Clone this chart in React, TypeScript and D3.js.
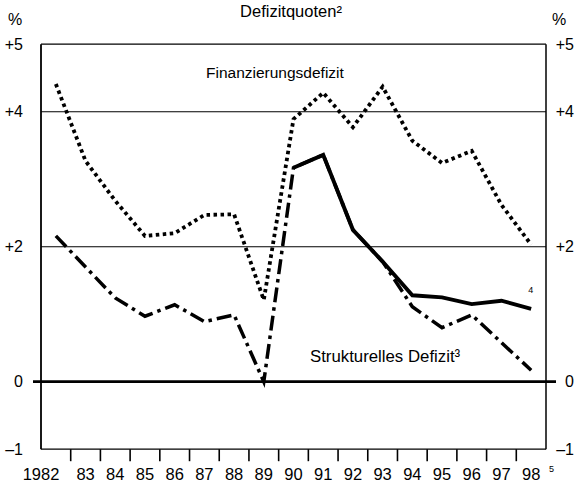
import React from "react";
import * as d3 from "d3";

const years = [1982, 1983, 1984, 1985, 1986, 1987, 1988, 1989, 1990, 1991, 1992, 1993, 1994, 1995, 1996, 1997, 1998];
const yearLabels = ["1982", "83", "84", "85", "86", "87", "88", "89", "90", "91", "92", "93", "94", "95", "96", "97", "98"];
const finanzierungsdefizit = [4.41, 3.27, 2.68, 2.16, 2.2, 2.47, 2.48, 1.21, 3.89, 4.28, 3.77, 4.37, 3.57, 3.24, 3.42, 2.62, 2.03];
const strukturellesDefizit = [2.16, 1.7, 1.24, 0.97, 1.14, 0.89, 0.99, 0.0, 3.17, 3.36, 2.25, 1.78, 1.11, 0.8, 0.99, 0.58, 0.17];
const footnote4Years = [1990, 1991, 1992, 1993, 1994, 1995, 1996, 1997, 1998];
const footnote4Values = [3.17, 3.36, 2.25, 1.78, 1.28, 1.25, 1.15, 1.2, 1.08];
const yTickValues = [5, 4, 2, 0, -1];
const yTickLabels = ["+5", "+4", "+2", "0", "\u20131"];
const gridValues = [4, 2];

const W = 576;
const H = 491;
const FONT = "'Liberation Sans', Arial, Helvetica, sans-serif";

export default function App() {
  const x = d3.scaleLinear().domain([1981.5, 1998.5]).range([41, 546]);
  const y = d3.scaleLinear().domain([-1, 5]).range([449.2, 44.2]);

  const line = d3
    .line<[number, number]>()
    .x((d) => x(d[0]))
    .y((d) => y(d[1]));

  const finPath = line(years.map((yr, i) => [yr, finanzierungsdefizit[i]]) as [number, number][]);
  const strPath = line(years.map((yr, i) => [yr, strukturellesDefizit[i]]) as [number, number][]);
  const solPath = line(footnote4Years.map((yr, i) => [yr, footnote4Values[i]]) as [number, number][]);

  const x0 = x(1981.5);
  const x1 = x(1998.5);
  const yTop = y(5);
  const yBot = y(-1);
  const boundaries = years.slice(0, -1).map((yr) => yr + 0.5);

  return (
    <svg
      width={W}
      height={H}
      viewBox={`0 0 ${W} ${H}`}
      style={{ position: "absolute", left: 0, top: 0, background: "#fff" }}
      fontFamily={FONT}
    >
      <rect x={0} y={0} width={W} height={H} fill="#fff" />
      {/* title */}
      <text x={291} y={17} textAnchor="middle" fontSize={16.5} fill="#000">
        Defizitquoten²
      </text>
      <text x={8} y={25} fontSize={16} fill="#000">%</text>
      <text x={552} y={25} fontSize={16} fill="#000">%</text>

      {/* grid lines */}
      {gridValues.map((v) => (
        <line key={v} x1={x0} x2={x1} y1={y(v)} y2={y(v)} stroke="#000" strokeWidth={1.1} />
      ))}

      {/* frame */}
      <line x1={x0} x2={x1} y1={yTop} y2={yTop} stroke="#000" strokeWidth={1.3} />
      <line x1={x0} x2={x1} y1={yBot} y2={yBot} stroke="#000" strokeWidth={1.3} />
      <line x1={x0} x2={x0} y1={yTop} y2={yBot} stroke="#000" strokeWidth={1.8} />
      <line x1={x1} x2={x1} y1={yTop} y2={yBot} stroke="#000" strokeWidth={1.5} />

      {/* zero line */}
      <line x1={x0 - 8} x2={x1 + 10} y1={y(0)} y2={y(0)} stroke="#000" strokeWidth={2.8} />

      {/* x ticks */}
      {boundaries.map((b) => (
        <line key={b} x1={x(b)} x2={x(b)} y1={yBot} y2={yBot + 12} stroke="#000" strokeWidth={1.6} />
      ))}

      {/* y labels */}
      {yTickValues.map((v, i) => (
        <g key={v}>
          <text x={23} y={y(v) + 5.5} textAnchor="end" fontSize={16} fill="#000">
            {yTickLabels[i]}
          </text>
          <text x={574} y={y(v) + 5.5} textAnchor="end" fontSize={16} fill="#000">
            {yTickLabels[i]}
          </text>
        </g>
      ))}

      {/* x labels */}
      {years.map((yr, i) => (
        <text
          key={yr}
          x={i === 0 ? x(1981.5) : x(yr)}
          y={480}
          textAnchor="middle"
          fontSize={16.5}
          fill="#000"
        >
          {yearLabels[i]}
        </text>
      ))}
      <text x={x(1998.5) + 3} y={472} fontSize={9} fill="#000">5</text>

      {/* series */}
      <path d={finPath ?? ""} fill="none" stroke="#000" strokeWidth={3.8} strokeDasharray="3.5 3.5" />
      <path d={strPath ?? ""} fill="none" stroke="#000" strokeWidth={3.5} strokeDasharray="15 5 3.5 5" />
      <path d={solPath ?? ""} fill="none" stroke="#000" strokeWidth={3.9} strokeLinejoin="miter" />

      {/* annotations */}
      <text x={206} y={78} fontSize={15.5} fill="#000">Finanzierungsdefizit</text>
      <text x={310} y={362} fontSize={16.8} fill="#000">Strukturelles Defizit³</text>
      <text x={x(1998) - 3} y={293} fontSize={9} fill="#000">4</text>
    </svg>
  );
}
